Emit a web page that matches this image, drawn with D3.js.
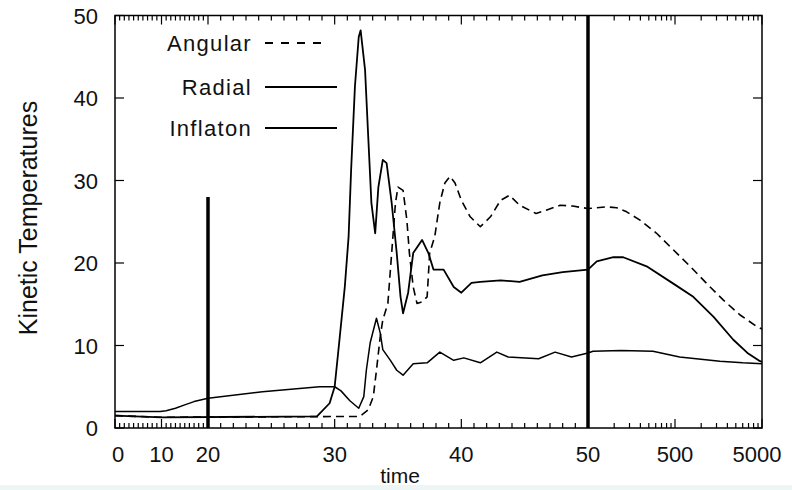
<!DOCTYPE html>
<html><head><meta charset="utf-8">
<script src="https://cdn.jsdelivr.net/npm/d3@7"></script>
<style>body{margin:0;background:#fff}svg{display:block}text{font-family:"Liberation Sans",Arial,sans-serif;fill:#111}</style>
</head><body><svg id="c" width="792" height="490"></svg>
<script>
const angularT = [0,10,32,32.65,33.05,33.3,33.6,33.8,34.2,34.5,34.8,35.0,35.4,35.7,35.9,36.2,36.5,36.9,37.3,37.5,37.9,38.3,38.7,39.1,39.5,40.0,40.7,41.5,42.3,43.1,43.8,44.6,45.9,46.7,47.8,48.8,50,82,107,139,198,307,478,745,1160,1800,2800,4360,5000];
const angularV = [1.5,1.3,1.4,2.2,3.8,7.0,11.1,13.1,15.1,21.2,27.3,29.2,28.8,25.2,21.2,17.1,15.1,15.3,15.9,21.2,23.2,27.3,29.7,30.5,29.7,27.6,25.6,24.4,25.6,27.6,28.2,27.0,26.0,26.4,27.0,26.9,26.6,26.8,26.7,26.2,25.2,23.6,21.6,19.6,17.5,15.5,13.7,12.3,12.0];
const radialT = [0,10,28.6,29.6,30.0,30.4,30.8,31.1,31.3,31.6,31.9,32.05,32.4,32.65,32.9,33.2,33.45,33.8,34.1,34.5,34.9,35.2,35.4,35.8,36.2,36.9,37.4,37.8,38.6,39.4,40.0,40.8,41.5,43.1,44.6,46.4,48,50,63,98,127,236,478,811,1380,2340,3400,4560,5000];
const radialV = [1.5,1.3,1.4,3.0,5.0,11,17.1,23.2,31.3,41.4,47.4,48.2,43.4,35.3,27.3,23.6,29.2,32.5,32.1,27.3,21.2,15.9,13.9,16.4,21.2,22.8,21.2,19.2,19.2,17.1,16.4,17.6,17.7,17.9,17.7,18.5,18.9,19.2,20.2,20.7,20.7,19.6,17.5,15.9,13.5,10.7,9.1,8.2,8.0];
const inflatonT = [0,7,9.7,11,13,15,17,20,24.3,28.8,30,30.5,31.2,31.9,32.3,32.5,32.8,33.3,33.6,33.8,34.4,34.9,35.4,36.2,37.3,38.3,39.4,40.2,41.5,42.8,43.7,46.1,47.4,48.7,50,57,120,279,565,1640,3000,5000];
const inflatonV = [2.0,2.0,2.0,2.1,2.4,2.8,3.2,3.6,4.4,5.0,5.0,4.5,3.3,2.4,3.8,7.0,10.3,13.3,11.5,9.5,8.2,7.0,6.4,7.8,7.9,9.2,8.2,8.5,7.9,9.2,8.6,8.4,9.2,8.6,9.1,9.3,9.4,9.3,8.6,8.1,7.9,7.8];
const seriesNames = ["Angular","Radial","Inflaton"];
const xMajorTicks = [0,10,20,30,40,50,500,5000];
const xTickLabels = ["0","10","20","30","40","50","500","5000"];
const xMinorTicks = d3.range(1,50).filter(d=>d%10!==0).concat(d3.range(100,500,50), d3.range(1000,5000,500));
const yTicks = [0,10,20,30,40,50];
const markerLines = [{t:20, v:28},{t:50, v:50}];

const L=115, R=762, T=15.5, B=428;
const xA = d3.scaleLinear().domain([0,20]).range([L,208]);
const xB = d3.scaleLinear().domain([20,50]).range([208,588]);
const xC = d3.scaleLog().domain([50,5000]).range([588,R]);
const x = t => t<=20 ? xA(t) : (t<=50 ? xB(t) : xC(t));
const y = d3.scaleLinear().domain([0,50]).range([B,T]);

const svg = d3.select("#c");
svg.append("rect").attr("width",792).attr("height",490).attr("fill","#fff");

// frame
svg.append("rect").attr("x",L).attr("y",T).attr("width",R-L).attr("height",B-T)
  .attr("fill","none").attr("stroke","#000").attr("stroke-width",1.5);

const g = svg.append("g");
[[xMinorTicks,5],[xMajorTicks,9]].forEach(([arr,len])=>{
  g.selectAll(null).data(arr).enter().append("line")
   .attr("x1",d=>x(d)).attr("x2",d=>x(d)).attr("y1",B).attr("y2",B-len)
   .attr("stroke","#000").attr("stroke-width",1.2);
  g.selectAll(null).data(arr).enter().append("line")
   .attr("x1",d=>x(d)).attr("x2",d=>x(d)).attr("y1",T).attr("y2",T+len)
   .attr("stroke","#000").attr("stroke-width",1.2);
});
g.selectAll(null).data(yTicks).enter().append("line")
 .attr("x1",L).attr("x2",L+9).attr("y1",d=>y(d)).attr("y2",d=>y(d)).attr("stroke","#000").attr("stroke-width",1.2);
g.selectAll(null).data(yTicks).enter().append("line")
 .attr("x1",R).attr("x2",R-9).attr("y1",d=>y(d)).attr("y2",d=>y(d)).attr("stroke","#000").attr("stroke-width",1.2);

const dxAdj = {0:3, 5000:-5};
svg.selectAll(null).data(xMajorTicks).enter().append("text")
  .attr("x",d=>x(d)+(dxAdj[d]||0)).attr("y",462).attr("text-anchor","middle")
  .attr("font-size",22).text((d,i)=>xTickLabels[i]);
svg.selectAll(null).data(yTicks).enter().append("text")
  .attr("x",98).attr("y",d=>y(d)+8).attr("text-anchor","end")
  .attr("font-size",22).text(d=>d);

svg.append("text").attr("x",400).attr("y",483).attr("text-anchor","middle").attr("font-size",21).text("time");
svg.append("text").attr("transform","translate(37,218) rotate(-90)").attr("text-anchor","middle")
  .attr("font-size",25).text("Kinetic Temperatures");

svg.selectAll(null).data(markerLines).enter().append("line")
  .attr("x1",d=>x(d.t)).attr("x2",d=>x(d.t)).attr("y1",B).attr("y2",d=>y(d.v))
  .attr("stroke","#000").attr("stroke-width",3.5);

const line = d3.line().x(d=>x(d[0])).y(d=>y(d[1]));
const series = [
  {T:angularT, V:angularV, dash:"8,5", w:1.6},
  {T:radialT, V:radialV, dash:null, w:1.8},
  {T:inflatonT, V:inflatonV, dash:null, w:1.5}
];
series.forEach(s=>{
  svg.append("path").datum(s.T.map((t,i)=>[t,s.V[i]]))
    .attr("d",line).attr("fill","none").attr("stroke","#000")
    .attr("stroke-width",s.w).attr("stroke-dasharray",s.dash)
    .attr("stroke-linejoin","round");
});

const legY = [43,87,128];
seriesNames.forEach((n,i)=>{
  svg.append("text").attr("x",252).attr("y",legY[i]+8).attr("text-anchor","end")
    .attr("font-size",22).attr("letter-spacing",1.3).text(n);
  svg.append("line").attr("x1",265).attr("x2",i===0?328:337).attr("y1",legY[i]).attr("y2",legY[i])
    .attr("stroke","#000").attr("stroke-width",1.8).attr("stroke-dasharray",i===0?"8,8":null);
});

svg.append("rect").attr("x",0).attr("y",485).attr("width",792).attr("height",5).attr("fill","#eef5f5");
</script></body></html>
